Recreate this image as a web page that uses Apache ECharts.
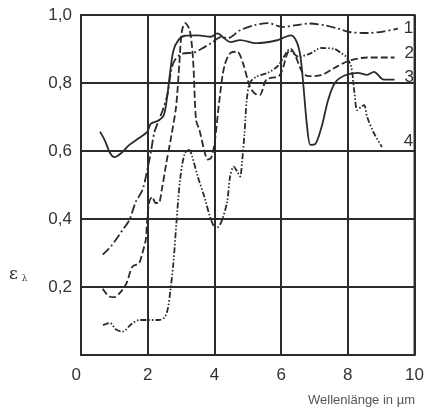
<!DOCTYPE html>
<html>
<head>
<meta charset="utf-8">
<script src="https://cdn.jsdelivr.net/npm/echarts@6/dist/echarts.min.js"></script>
<style>
  html, body { margin: 0; padding: 0; background: #fff; }
  #chart { width: 427px; height: 412px; }
</style>
</head>
<body>
<div id="chart"></div>
<script>
// Kurven (x = Wellenlänge in µm, y = Emissionsgrad)
var curve1 = [[0.65,0.295],[0.9,0.32],[1.25,0.368],[1.45,0.397],[1.64,0.45],[1.84,0.485],[2.0,0.55],[2.1,0.6],
  [2.2,0.655],[2.33,0.69],[2.45,0.72],[2.6,0.77],[2.7,0.835],[2.8,0.865],[3.0,0.885],[3.4,0.89],[3.6,0.9],
  [3.9,0.917],[4.2,0.935],[4.4,0.932],[4.77,0.955],[5.2,0.97],[5.6,0.976],[6.05,0.965],[6.44,0.97],
  [6.85,0.975],[7.3,0.97],[7.7,0.96],[8.05,0.95],[8.6,0.947],[9.1,0.952],[9.5,0.96]];

var curve2 = [[0.65,0.195],[0.85,0.172],[1.0,0.17],[1.16,0.182],[1.36,0.21],[1.54,0.26],[1.74,0.27],[1.84,0.3],
  [1.94,0.338],[1.98,0.39],[2.04,0.447],[2.13,0.465],[2.24,0.447],[2.33,0.447],[2.42,0.485],[2.55,0.56],
  [2.7,0.64],[2.85,0.73],[2.95,0.86],[3.02,0.95],[3.12,0.976],[3.26,0.955],[3.36,0.868],[3.45,0.69],
  [3.55,0.662],[3.7,0.6],[3.8,0.575],[3.9,0.58],[4.0,0.62],[4.15,0.75],[4.3,0.85],[4.5,0.89],[4.68,0.892],
  [4.85,0.86],[5.06,0.79],[5.2,0.77],[5.36,0.765],[5.56,0.81],[5.95,0.822],[6.19,0.888],[6.29,0.9],
  [6.44,0.877],[6.63,0.833],[6.82,0.82],[7.2,0.823],[7.61,0.845],[8.05,0.866],[8.58,0.875],[9.4,0.875]];

var curve3 = [[0.57,0.657],[0.72,0.63],[0.87,0.594],[1.01,0.582],[1.21,0.594],[1.45,0.618],[1.74,0.638],
  [1.99,0.657],[2.09,0.68],[2.33,0.69],[2.48,0.705],[2.57,0.75],[2.67,0.83],[2.77,0.895],[2.92,0.926],
  [3.11,0.939],[3.5,0.94],[3.89,0.936],[4.09,0.946],[4.29,0.932],[4.48,0.92],[4.77,0.926],[5.26,0.917],
  [5.85,0.925],[6.14,0.936],[6.3,0.94],[6.47,0.92],[6.58,0.877],[6.67,0.79],[6.78,0.67],[6.88,0.618],
  [7.02,0.62],[7.21,0.67],[7.41,0.75],[7.61,0.8],[7.9,0.822],[8.3,0.83],[8.58,0.824],[8.78,0.833],
  [9.08,0.81],[9.4,0.81]];

var curve4 = [[0.66,0.088],[0.87,0.094],[1.05,0.075],[1.25,0.069],[1.5,0.09],[1.74,0.103],[2.0,0.103],
  [2.33,0.103],[2.5,0.11],[2.6,0.135],[2.68,0.19],[2.77,0.27],[2.86,0.388],[2.97,0.515],[3.1,0.59],
  [3.22,0.603],[3.3,0.594],[3.5,0.525],[3.7,0.465],[3.89,0.4],[4.05,0.372],[4.2,0.39],[4.38,0.45],
  [4.47,0.525],[4.58,0.554],[4.68,0.54],[4.77,0.525],[4.83,0.57],[4.9,0.65],[4.97,0.75],[5.06,0.8],
  [5.25,0.818],[5.6,0.83],[5.9,0.85],[6.1,0.88],[6.23,0.897],[6.53,0.877],[6.9,0.888],[7.2,0.903],
  [7.6,0.9],[7.8,0.888],[7.95,0.877],[8.1,0.848],[8.2,0.77],[8.28,0.72],[8.4,0.73],[8.49,0.735],
  [8.58,0.7],[8.78,0.653],[9.02,0.612]];

var curveNames = ['1', '2', '3', '4'];
var xTicks = [0, 2, 4, 6, 8, 10];
var yTicks = [0.2, 0.4, 0.6, 0.8, 1.0];

var lineCol = '#2b2b2b';
var font = 'Liberation Sans, Arial, sans-serif';

var chart = echarts.init(document.getElementById('chart'));

function mkSeries(name, data, dash, labOffset) {
  return {
    name: name,
    type: 'line',
    data: data,
    showSymbol: false,
    smooth: 0.3,
    lineStyle: { color: lineCol, width: 1.8, type: dash },
    endLabel: {
      show: true,
      formatter: name,
      fontFamily: font,
      fontSize: 17,
      color: '#333',
      distance: 4,
      offset: labOffset
    },
    silent: true,
    z: 3
  };
}

var option = {
  animation: false,
  grid: {
    left: 81, top: 15, right: 7, bottom: 57,
    show: true, borderColor: lineCol, borderWidth: 2
  },
  xAxis: {
    type: 'value', min: 0, max: 10, interval: 2,
    axisLine: { show: true, lineStyle: { color: lineCol, width: 2 } },
    axisTick: { show: false },
    splitLine: { show: true, lineStyle: { color: lineCol, width: 2 } },
    axisLabel: {
      fontFamily: font, fontSize: 17, color: '#333', margin: 12,
      alignMinLabel: 'right',
      formatter: function (v) { return xTicks.indexOf(v) >= 0 ? String(v) : ''; }
    }
  },
  yAxis: {
    type: 'value', min: 0, max: 1, interval: 0.2,
    axisLine: { show: true, lineStyle: { color: lineCol, width: 2 } },
    axisTick: { show: false },
    splitLine: { show: true, lineStyle: { color: lineCol, width: 2 } },
    axisLabel: {
      fontFamily: font, fontSize: 17, color: '#333', margin: 9,
      formatter: function (v) {
        var t = Math.round(v * 10) / 10;
        if (t === 0) return '';
        return yTicks.indexOf(t) >= 0 ? t.toFixed(1).replace('.', ',') : '';
      }
    }
  },
  graphic: [
    {
      type: 'text', left: 9, top: 266,
      style: {
        text: 'ε{s|λ}',
        fontFamily: 'DejaVu Serif, serif', fontSize: 17, fill: '#333',
        rich: { s: { fontSize: 9, fontFamily: 'DejaVu Serif, serif', fill: '#333', padding: [9, 0, 0, 4] } }
      }
    },
    {
      type: 'text', right: 12, top: 394,
      style: {
        text: 'Wellenlänge in µm',
        fontFamily: font, fontSize: 13, fill: '#555'
      }
    }
  ],
  series: [
    mkSeries(curveNames[0], curve1, [9, 3, 2, 3], [2, 0]),
    mkSeries(curveNames[1], curve2, [7, 3], [6, -4]),
    mkSeries(curveNames[2], curve3, 'solid', [6, -2]),
    mkSeries(curveNames[3], curve4, [6, 2, 1.5, 2, 1.5, 2], [18, -6])
  ]
};

chart.setOption(option);
</script>
</body>
</html>
